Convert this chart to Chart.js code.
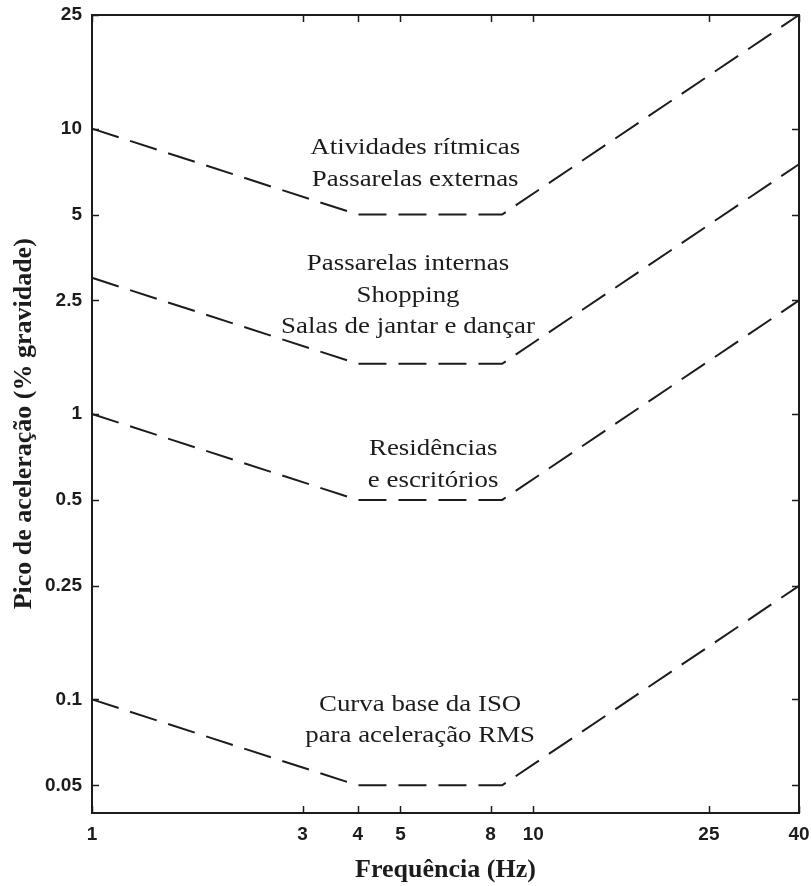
<!DOCTYPE html>
<html>
<head>
<meta charset="utf-8">
<script src="https://cdn.jsdelivr.net/npm/chart.js@4/dist/chart.umd.min.js"></script>
<style>
  html,body{margin:0;padding:0;background:#fff;}
  #wrap{width:811px;height:886px;}
</style>
</head>
<body>
<div id="wrap"><canvas id="myChart" width="811" height="886"></canvas></div>
<script>
// data
const freqHz = [1, 4, 8.5, 40];
const atividades = [10, 5, 5, 25];
const passarelasInternas = [3, 1.5, 1.5, 7.5];
const residencias = [1, 0.5, 0.5, 2.5];
const isoBase = [0.1, 0.05, 0.05, 0.25];

const xTicks = [1, 3, 4, 5, 8, 10, 25, 40];
const yTicks = [0.05, 0.1, 0.25, 0.5, 1, 2.5, 5, 10, 25];

// curve labels (text lines + anchor in data units)
const labelLines = [
  ["Atividades rítmicas", "Passarelas externas"],
  ["Passarelas internas", "Shopping", "Salas de jantar e dançar"],
  ["Residências", "e escritórios"],
  ["Curva base da ISO", "para aceleração RMS"]
];
const labelX = [5.4, 5.2, 5.93, 5.54];
const labelY = [8.55, 3.35, 0.755, 0.096];

const ink = "#1c1c1c";

function pts(ys){
  return freqHz.map((f,i)=>({x:f, y:ys[i]}));
}
function curve(ys){
  return {
    data: pts(ys),
    borderColor: ink,
    borderWidth: 2,
    borderDash: [28, 12],
    pointRadius: 0,
    tension: 0,
    fill: false,
    clip: false
  };
}

// frame, inward ticks on all sides, and the curve labels
const framePlugin = {
  id: "frame",
  afterDraw(chart){
    const ctx = chart.ctx, a = chart.chartArea;
    const xs = chart.scales.x, ys = chart.scales.y;
    ctx.save();
    ctx.strokeStyle = ink;
    ctx.lineWidth = 2;
    ctx.strokeRect(a.left, a.top, a.right-a.left, a.bottom-a.top);
    ctx.lineWidth = 1.5;
    ctx.beginPath();
    xTicks.forEach(v=>{
      const px = Math.round(xs.getPixelForValue(v))+0.5;
      ctx.moveTo(px, a.bottom); ctx.lineTo(px, a.bottom-7);
      ctx.moveTo(px, a.top); ctx.lineTo(px, a.top+7);
    });
    yTicks.forEach(v=>{
      const py = Math.round(ys.getPixelForValue(v))+0.5;
      ctx.moveTo(a.left, py); ctx.lineTo(a.left+7, py);
      ctx.moveTo(a.right, py); ctx.lineTo(a.right-7, py);
    });
    ctx.stroke();

    ctx.fillStyle = ink;
    ctx.font = "24px 'Liberation Serif', 'Times New Roman', serif";
    ctx.textAlign = "center";
    ctx.textBaseline = "middle";
    labelLines.forEach((lines,i)=>{
      const cx = xs.getPixelForValue(labelX[i]);
      const cy = ys.getPixelForValue(labelY[i]);
      lines.forEach((t,j)=>{
        ctx.save();
        ctx.translate(cx, cy + j*31.5);
        ctx.scale(1.12, 1);
        ctx.fillText(t, 0, 0);
        ctx.restore();
      });
    });
    ctx.restore();
  }
};

var ctx = document.getElementById('myChart').getContext('2d');
var chart = new Chart(ctx, {
  type: 'line',
  data: {
    datasets: [curve(atividades), curve(passarelasInternas), curve(residencias), curve(isoBase)]
  },
  options: {
    responsive: false,
    animation: false,
    layout: { padding: { top: 15, right: 12, left: 0, bottom: 0 } },
    plugins: {
      legend: { display: false },
      tooltip: { enabled: false }
    },
    scales: {
      x: {
        type: 'logarithmic',
        min: 1,
        max: 40,
        afterBuildTicks: s => { s.ticks = xTicks.map(v=>({value:v})); },
        afterFit: s => { s.height = 73; s.paddingLeft = 0; s.paddingRight = 0; },
        grid: { display: false, drawTicks: false },
        border: { display: false },
        ticks: {
          color: ink,
          padding: 10,
          maxRotation: 0,
          autoSkip: false,
          font: { family: "'Liberation Sans', Arial, sans-serif", size: 19, weight: 'bold' },
          callback: v => String(v)
        },
        title: {
          display: true,
          text: 'Frequência (Hz)',
          color: ink,
          padding: { top: 0, bottom: 0 },
          font: { family: "'Liberation Serif', 'Times New Roman', serif", size: 26, weight: 'bold' }
        }
      },
      y: {
        type: 'logarithmic',
        min: 0.04,
        max: 25,
        afterBuildTicks: s => { s.ticks = yTicks.map(v=>({value:v})); },
        afterFit: s => { s.width = 92; s.paddingTop = 0; s.paddingBottom = 0; },
        grid: { display: false, drawTicks: false },
        border: { display: false },
        ticks: {
          color: ink,
          padding: 10,
          autoSkip: false,
          font: { family: "'Liberation Sans', Arial, sans-serif", size: 19, weight: 'bold' },
          callback: v => String(v)
        },
        title: {
          display: true,
          text: 'Pico de aceleração (% gravidade)   ',
          color: ink,
          padding: { top: 9, bottom: 0 },
          font: { family: "'Liberation Serif', 'Times New Roman', serif", size: 26, weight: 'bold' }
        }
      }
    }
  },
  plugins: [framePlugin]
});
</script>
</body>
</html>
